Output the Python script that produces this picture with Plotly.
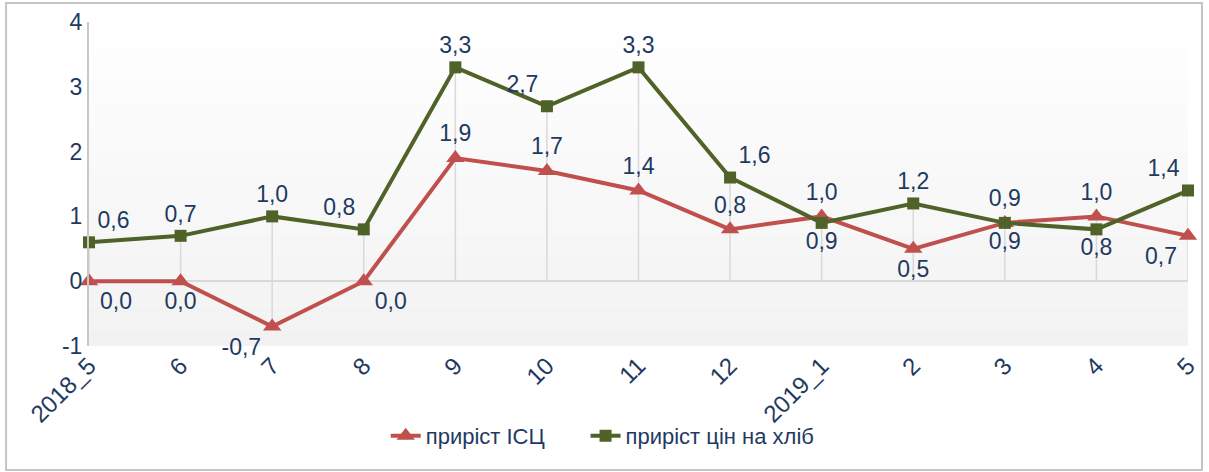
import plotly.graph_objects as go

categories = ["2018_5", "6", "7", "8", "9", "10", "11", "12", "2019_1", "2", "3", "4", "5"]
cpi_growth = [0.0, 0.0, -0.7, 0.0, 1.9, 1.7, 1.4, 0.8, 1.0, 0.5, 0.9, 1.0, 0.7]
bread_growth = [0.6, 0.7, 1.0, 0.8, 3.3, 2.7, 3.3, 1.6, 0.9, 1.2, 0.9, 0.8, 1.4]
series_names = ["приріст ІСЦ", "приріст цін на хліб"]
y_ticks = [-1, 0, 1, 2, 3, 4]
y_ticklabels = ["-1", "0", "1", "2", "3", "4"]

cpi_pos = ["bottom right", "bottom center", "bottom left", "bottom right", "top center",
           "top center", "top center", "top center", "top center", "bottom center",
           "top center", "top center", "bottom left"]
bread_pos = ["top right", "top center", "top center", "top left", "top center",
             "top left", "top center", "top right", "bottom center", "top center",
             "bottom center", "bottom center", "top left"]

TXT = "#1f3a60"
RED = "#c0504d"
GREEN = "#4f6228"
FONT = "Liberation Sans, Arial, sans-serif"

def fmt(v):
    return f"{v:.1f}".replace(".", ",")

xs = list(range(len(categories)))

fig = go.Figure()

# drop lines from each point to the category axis
dx, dy = [], []
for i in xs:
    lo = min(0, cpi_growth[i], bread_growth[i])
    hi = max(0, cpi_growth[i], bread_growth[i])
    dx += [i, i, None]
    dy += [lo, hi, None]
fig.add_trace(go.Scatter(x=dx, y=dy, mode="lines", line=dict(color="#d9d9d9", width=1.5),
                         showlegend=False, hoverinfo="skip"))

fig.add_trace(go.Scatter(
    x=xs, y=cpi_growth, name=series_names[0], mode="lines+markers+text",
    line=dict(color=RED, width=4),
    marker=dict(symbol="triangle-up", size=16, color=RED),
    text=[fmt(v) for v in cpi_growth], textposition=cpi_pos, cliponaxis=False,
    textfont=dict(size=23, color=TXT, family=FONT), legend="legend"))

fig.add_trace(go.Scatter(
    x=xs, y=bread_growth, name=series_names[1], mode="lines+markers+text",
    line=dict(color=GREEN, width=4),
    marker=dict(symbol="square", size=12, color=GREEN),
    text=[fmt(v) for v in bread_growth], textposition=bread_pos, cliponaxis=False,
    textfont=dict(size=23, color=TXT, family=FONT), legend="legend2"))

# background gradient
shapes = []
n = 40
for k in range(n):
    t = k / n
    c = int(round(0xf2 + (0xff - 0xf2) * t))
    shapes.append(dict(type="rect", xref="x domain", yref="y domain",
                       x0=0, x1=1, y0=t, y1=(k + 1) / n, layer="below",
                       line=dict(width=0), fillcolor=f"rgb({c},{c},{c})"))
# outer frame
shapes.append(dict(type="rect", xref="paper", yref="paper",
                   x0=(6 - 89) / 1100, x1=(1203 - 89) / 1100,
                   y0=(346 - 470) / 324, y1=(346 - 3) / 324,
                   line=dict(color="#c4c4c4", width=2), layer="below"))

legend_common = dict(orientation="h", xanchor="left", y=(346 - 436) / 324, yanchor="middle",
                     font=dict(size=22, color=TXT, family=FONT),
                     bgcolor="rgba(0,0,0,0)")

fig.update_layout(
    width=1209, height=472,
    margin=dict(l=89, r=21, t=22, b=126),
    paper_bgcolor="white", plot_bgcolor="white",
    font=dict(family=FONT, color=TXT),
    shapes=shapes,
    showlegend=True,
    legend=dict(x=(386 - 89) / 1100, **legend_common),
    legend2=dict(x=(586 - 89) / 1100, **legend_common),
)

fig.update_xaxes(range=[0, 12], tickvals=xs, ticktext=categories, tickangle=-45,
                 tickfont=dict(size=24, color=TXT), showgrid=False, zeroline=False,
                 showline=False, ticks="", automargin=False)
fig.update_yaxes(range=[-1, 4], tickvals=y_ticks, ticktext=y_ticklabels,
                 tickfont=dict(size=23, color=TXT),
                 showgrid=False, zeroline=True, zerolinecolor="#d9d9d9", zerolinewidth=1.5,
                 showline=True, linecolor="#c8c8c8", linewidth=2, ticks="", automargin=False)

fig.write_html("out.html", config={"displayModeBar": False},
               post_script="document.body.style.margin='0';")
